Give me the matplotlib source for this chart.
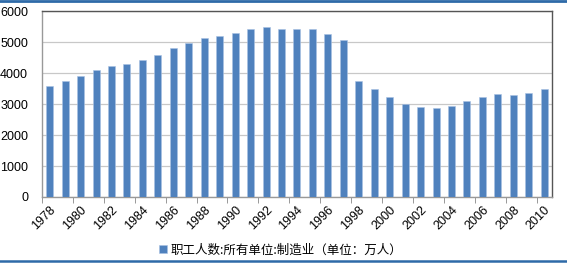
import matplotlib.pyplot as plt
from matplotlib.lines import Line2D
from matplotlib.ticker import FixedLocator

plt.rcParams['font.family'] = ['Liberation Sans', 'Noto Sans CJK SC', 'DejaVu Sans']

years = list(range(1978, 2011))
workers = [3590, 3742, 3913, 4106, 4213, 4300, 4429, 4590, 4806, 4977,
           5116, 5180, 5290, 5409, 5474, 5430, 5409, 5409, 5258, 5052,
           3752, 3484, 3226, 2990, 2892, 2871, 2935, 3084, 3226, 3323,
           3300, 3355, 3494]
series_name = "职工人数:所有单位:制造业（单位：万人）"

bar_color = '#4F81BD'

fig = plt.figure(figsize=(5.67, 2.66), dpi=100)
ax = fig.add_axes([0.074, 0.2594, 0.8995, 0.6992])

ax.bar(years, workers, width=0.45, color=bar_color, edgecolor='#A9C2E3', linewidth=0.4,
       zorder=3, label=series_name)

ax.set_xlim(1977.5, 2010.5)
ax.set_ylim(0, 6000)
ax.set_yticks(range(0, 6001, 1000))
ax.grid(axis='y', color='#C8C8C8', linewidth=0.9, zorder=0)

ax.set_xticks(years[::2])
ax.set_xticklabels([str(y) for y in years[::2]], rotation=45, ha='right',
                   rotation_mode='anchor', fontsize=9)
ax.xaxis.set_minor_locator(FixedLocator([1977.5 + 2 * k for k in range(17)]))
ax.tick_params(axis='x', which='major', length=0, pad=5)
ax.tick_params(axis='x', which='minor', length=4, color='#888888', direction='out')
ax.tick_params(axis='y', length=0, labelsize=9, pad=10)

for side in ['top', 'right']:
    ax.spines[side].set_color('#555555')
    ax.spines[side].set_linewidth(1.0)
for side in ['left', 'bottom']:
    ax.spines[side].set_color('#999999')
    ax.spines[side].set_linewidth(1.0)

fig.legend(loc='center', bbox_to_anchor=(0.495, 0.06), frameon=False, fontsize=9,
           handlelength=0.6, handleheight=0.6, handletextpad=0.3,
           prop={'family': ['Noto Sans CJK SC', 'DejaVu Sans'], 'size': 9})

# blue rules framing the figure top and bottom
fig.add_artist(Line2D([0, 1], [0.995, 0.995], color='#2E6AA8', linewidth=2.0,
                      transform=fig.transFigure))
fig.add_artist(Line2D([0, 1], [0.018, 0.018], color='#2E6AA8', linewidth=1.8,
                      transform=fig.transFigure))

fig.savefig('out.png', dpi=100)
